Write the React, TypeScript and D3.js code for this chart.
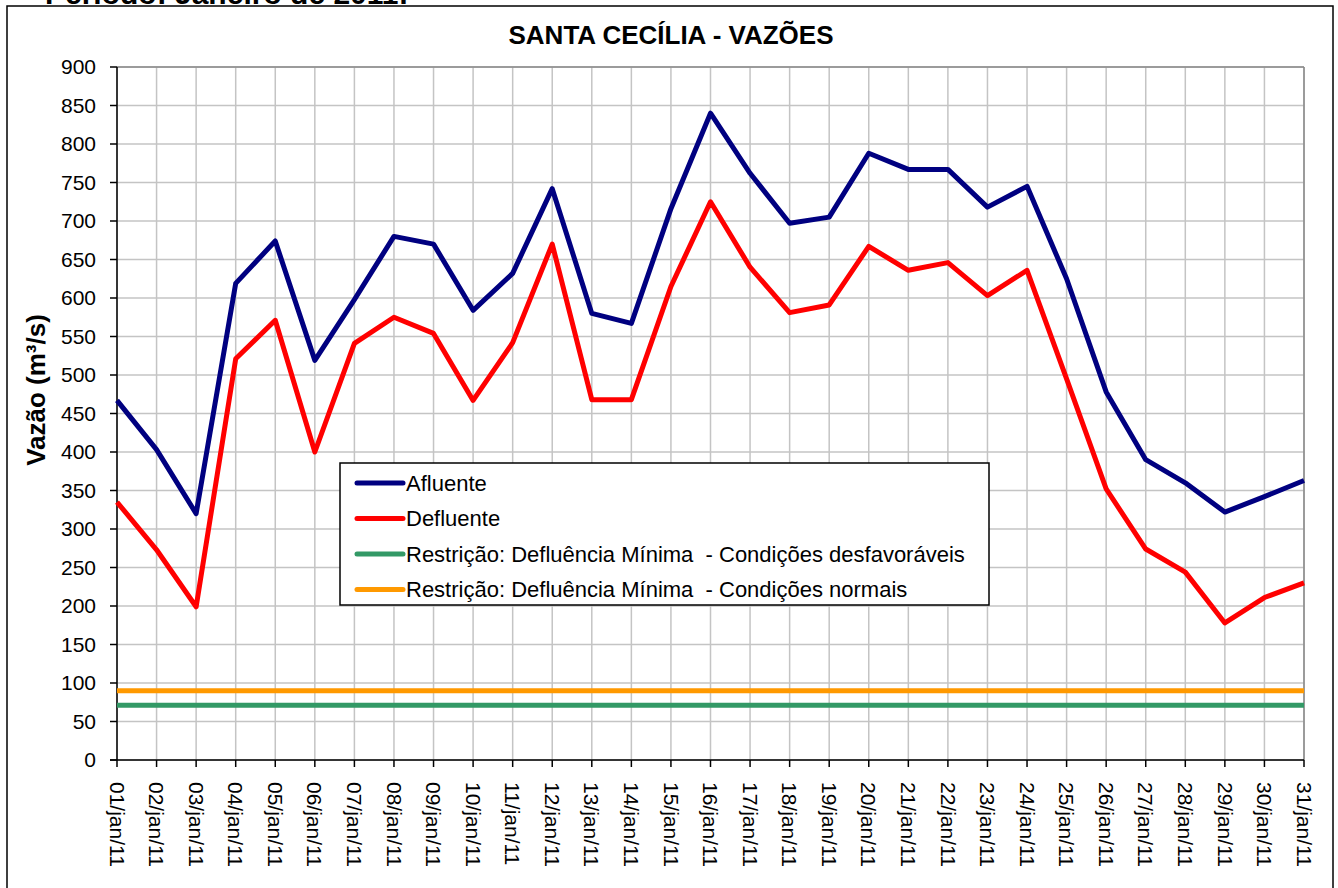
import React from "react";
import * as d3 from "d3";

const days = d3.range(1, 32).map((d) => `${String(d).padStart(2, "0")}/jan/11`);
const afluente = [467, 403, 320, 619, 674, 519, 598, 680, 670, 584, 632, 742, 580, 567, 716, 840, 762, 697, 705, 788, 767, 767, 718, 745, 625, 478, 390, 360, 322, 342, 363];
const defluente = [335, 273, 199, 521, 571, 400, 541, 575, 554, 467, 542, 670, 468, 468, 615, 725, 640, 581, 591, 667, 636, 646, 603, 636, 495, 352, 274, 244, 178, 211, 230];
const restricaoDesfav = 71;
const restricaoNormal = 90;
const yTicks = d3.range(0, 901, 50);

const W = 1338;
const H = 888;
const FONT = "'Liberation Sans', Arial, sans-serif";

export default function App() {
  const x = d3.scalePoint<string>().domain(days).range([117, 1304]);
  const y = d3.scaleLinear().domain([0, 900]).range([760, 67]);
  const line = d3
    .line<number>()
    .x((_, i) => x(days[i]) as number)
    .y((v) => y(v));
  const x0 = x(days[0]) as number;
  const x1 = x(days[days.length - 1]) as number;

  const series = [
    { name: "Afluente", color: "#000080" },
    { name: "Defluente", color: "#ff0000" },
    { name: "Restrição: Defluência Mínima  - Condições desfavoráveis", color: "#339966" },
    { name: "Restrição: Defluência Mínima  - Condições normais", color: "#ff9900" },
  ];

  return (
    <svg
      width={W}
      height={H}
      style={{ position: "absolute", left: 0, top: 0, background: "#fff" }}
      fontFamily={FONT}
    >
      <text x={45} y={4} fontSize={30} fontWeight="bold" fill="#000">
        Período: Janeiro de 2011:
      </text>
      <rect x={7} y={6} width={1326} height={900} fill="#fff" stroke="#000" strokeWidth={1.5} />
      <text x={671} y={44} textAnchor="middle" fontSize={26} fontWeight="bold" fill="#000">
        SANTA CECÍLIA - VAZÕES
      </text>

      {/* gridlines */}
      {yTicks.map((t) => (
        <line key={"gy" + t} x1={x0} x2={x1} y1={y(t)} y2={y(t)} stroke="#c4c4c4" strokeWidth={1.5} />
      ))}
      {days.map((d) => (
        <line key={"gx" + d} x1={x(d)} x2={x(d)} y1={y(900)} y2={y(0)} stroke="#c4c4c4" strokeWidth={1.5} />
      ))}
      <line x1={x1} x2={x1} y1={y(900)} y2={y(0)} stroke="#888" strokeWidth={1.5} />
      <line x1={x0} x2={x1} y1={y(900)} y2={y(900)} stroke="#888" strokeWidth={1.5} />

      {/* axes */}
      <line x1={x0} x2={x0} y1={y(900)} y2={y(0)} stroke="#000" strokeWidth={1.5} />
      <line x1={x0 - 7} x2={x1} y1={y(0)} y2={y(0)} stroke="#000" strokeWidth={1.5} />
      {yTicks.map((t) => (
        <g key={"ty" + t}>
          <line x1={x0 - 7} x2={x0} y1={y(t)} y2={y(t)} stroke="#000" strokeWidth={1.5} />
          <text x={96} y={y(t)} dy="0.35em" textAnchor="end" fontSize={21} fill="#000">
            {t}
          </text>
        </g>
      ))}
      {days.map((d) => (
        <g key={"tx" + d}>
          <line x1={x(d)} x2={x(d)} y1={y(0)} y2={y(0) + 7} stroke="#000" strokeWidth={1.5} />
          <text
            transform={`translate(${x(d)},${y(0) + 22}) rotate(90)`}
            dy="0.35em"
            textAnchor="start"
            fontSize={21}
            fill="#000"
          >
            {d}
          </text>
        </g>
      ))}
      <text
        transform={`translate(45,390) rotate(-90)`}
        textAnchor="middle"
        fontSize={26}
        fontWeight="bold"
        fill="#000"
      >
        Vazão (m³/s)
      </text>

      {/* restriction lines */}
      <line x1={x0} x2={x1} y1={y(restricaoNormal)} y2={y(restricaoNormal)} stroke="#ff9900" strokeWidth={5} />
      <line x1={x0} x2={x1} y1={y(restricaoDesfav)} y2={y(restricaoDesfav)} stroke="#339966" strokeWidth={5} />

      {/* series */}
      <path d={line(defluente) || ""} fill="none" stroke="#ff0000" strokeWidth={5} strokeLinejoin="round" />
      <path d={line(afluente) || ""} fill="none" stroke="#000080" strokeWidth={5} strokeLinejoin="round" />

      {/* legend */}
      <rect x={340} y={463} width={649} height={142} fill="#fff" stroke="#000" strokeWidth={1.5} />
      {series.map((s, i) => {
        const ly = 483 + i * 35.5;
        return (
          <g key={s.name}>
            <line x1={357} x2={403} y1={ly} y2={ly} stroke={s.color} strokeWidth={5} strokeLinecap="round" />
            <text x={406} y={ly} dy="0.35em" fontSize={22} fill="#000" style={{ whiteSpace: "pre" }}>
              {s.name}
            </text>
          </g>
        );
      })}
    </svg>
  );
}
